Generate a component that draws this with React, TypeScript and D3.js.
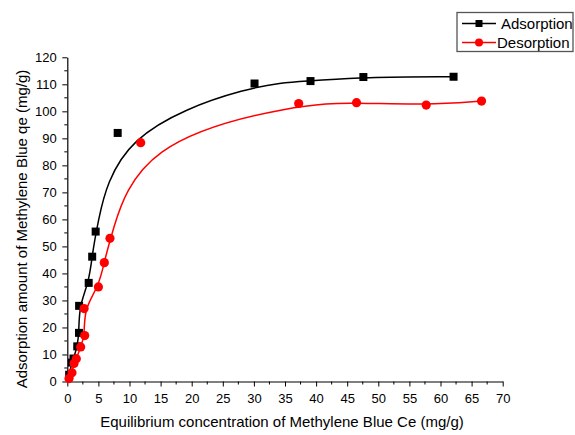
import { useRef, useEffect } from 'react';
import * as d3 from 'd3';

// Adsorption isotherm (black squares)
const adsCe = [0.3, 0.75, 1.0, 1.6, 1.88, 1.9, 3.44, 4.0, 4.56, 8.1, 30.1, 39.1, 47.6, 62.1];
const adsQe = [2.5, 7, 8.5, 13, 18, 28, 36.5, 46.2, 55.5, 92, 110.3, 111.2, 112.7, 112.8];
// Desorption isotherm (red circles)
const desCe = [0.27, 0.75, 1.08, 1.45, 2.15, 2.8, 2.7, 5.0, 5.95, 6.86, 11.8, 37.2, 46.5, 57.7, 66.6];
const desQe = [1.1, 3.2, 6.7, 8.4, 12.8, 17, 27, 35, 44, 53, 88.4, 102.9, 103.2, 102.3, 103.8];

const xTicks = [0, 5, 10, 15, 20, 25, 30, 35, 40, 45, 50, 55, 60, 65, 70];
const yTicks = [0, 10, 20, 30, 40, 50, 60, 70, 80, 90, 100, 110, 120];

const W = 575, H = 435;
const FONT = '"Liberation Sans", Arial, sans-serif';

export default function App() {
  const svgRef = useRef<SVGSVGElement>(null);

  useEffect(() => {
    const svg = d3.select(svgRef.current);
    svg.selectAll('*').remove();

    const x = d3.scaleLinear().domain([0, 70]).range([67.3, 502.7]);
    const y = d3.scaleLinear().domain([0, 120]).range([381.5, 57.3]);

    // minor ticks
    const xMinor = d3.range(0, 70.01, 2.5).filter(v => v % 5 !== 0);
    const yMinor = d3.range(0, 120.01, 5).filter(v => v % 10 !== 0);

    const gx = svg.append('g').attr('transform', `translate(0,${y(0)})`);
    gx.call(d3.axisBottom(x).tickValues(xTicks).tickSize(5).tickSizeOuter(0).tickPadding(7).tickFormat(d3.format('d')) as any);
    xMinor.forEach(v => gx.append('line').attr('x1', x(v)).attr('x2', x(v)).attr('y1', 0).attr('y2', 3).attr('stroke', '#000'));

    const gy = svg.append('g').attr('transform', `translate(${x(0)},0)`);
    gy.call(d3.axisLeft(y).tickValues(yTicks).tickSize(5).tickSizeOuter(0).tickPadding(5.5).tickFormat(d3.format('d')) as any);
    yMinor.forEach(v => gy.append('line').attr('x1', 0).attr('x2', -3).attr('y1', y(v)).attr('y2', y(v)).attr('stroke', '#000'));

    svg.selectAll('.tick text').style('font-family', FONT).style('font-size', '13px').attr('fill', '#000');
    svg.selectAll('.domain').attr('stroke', '#000').attr('stroke-width', 1.2);
    svg.selectAll('.tick line').attr('stroke', '#000');

    // axis titles
    svg.append('text')
      .attr('x', 282).attr('y', 427)
      .attr('text-anchor', 'middle').attr('font-family', FONT).attr('font-size', 15)
      .text('Equilibrium concentration of Methylene Blue Ce (mg/g)');
    svg.append('text')
      .attr('transform', `translate(27,229) rotate(-90)`)
      .attr('text-anchor', 'middle').attr('font-family', FONT).attr('font-size', 15)
      .text('Adsorption amount of Methylene Blue qe (mg/g)');

    const ads = adsCe.map((c, i) => [x(c), y(adsQe[i])] as [number, number]);
    const des = desCe.map((c, i) => [x(c), y(desQe[i])] as [number, number]);

    svg.append('path').attr('d', d3.line().curve(d3.curveBasis)(ads))
      .attr('fill', 'none').attr('stroke', '#000').attr('stroke-width', 1.5);
    svg.selectAll('rect.ads').data(ads).enter().append('rect')
      .attr('x', d => d[0] - 4).attr('y', d => d[1] - 4)
      .attr('width', 8).attr('height', 8).attr('fill', '#000');

    svg.append('path').attr('d', d3.line().curve(d3.curveBasis)(des))
      .attr('fill', 'none').attr('stroke', '#ff0000').attr('stroke-width', 1.5);
    svg.selectAll('circle.des').data(des).enter().append('circle')
      .attr('cx', d => d[0]).attr('cy', d => d[1]).attr('r', 4.6).attr('fill', '#ff0000');

    // legend
    const lg = svg.append('g');
    lg.append('rect').attr('x', 457).attr('y', 12.5).attr('width', 116).attr('height', 39)
      .attr('fill', '#fff').attr('stroke', '#555').attr('stroke-width', 1.3);
    lg.append('line').attr('x1', 462).attr('x2', 496).attr('y1', 23.5).attr('y2', 23.5).attr('stroke', '#000').attr('stroke-width', 1.5);
    lg.append('rect').attr('x', 475.5).attr('y', 20).attr('width', 7).attr('height', 7).attr('fill', '#000');
    lg.append('text').attr('x', 501).attr('y', 28.5).attr('font-family', FONT).attr('font-size', 15).text('Adsorption');
    lg.append('line').attr('x1', 462).attr('x2', 496).attr('y1', 42.5).attr('y2', 42.5).attr('stroke', '#ff0000').attr('stroke-width', 1.5);
    lg.append('circle').attr('cx', 479).attr('cy', 42.5).attr('r', 4).attr('fill', '#ff0000');
    lg.append('text').attr('x', 497).attr('y', 48).attr('font-family', FONT).attr('font-size', 15).text('Desorption');
  }, []);

  return (
    <svg ref={svgRef} width={W} height={H}
      style={{ position: 'absolute', left: 0, top: 0, background: '#fff' }} />
  );
}
